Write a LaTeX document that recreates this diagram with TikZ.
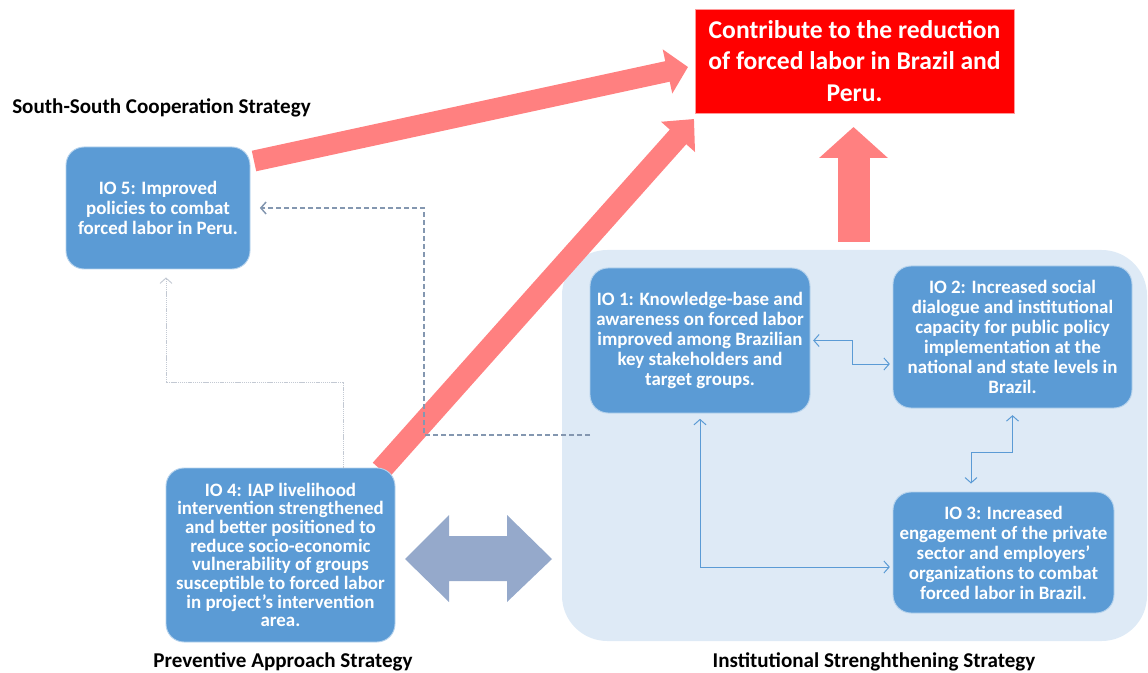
\documentclass[tikz,border=0pt]{standalone}
\usepackage{fontspec}
\setmainfont{Carlito}
\usetikzlibrary{arrows.meta,calc}

\definecolor{boxblue}{HTML}{5B9BD5}
\definecolor{bglight}{HTML}{DEEAF6}
\definecolor{goalred}{HTML}{FF0000}
\definecolor{pinkarrow}{HTML}{FF8080}
\definecolor{slateblue}{HTML}{95A9CB}
\definecolor{dashgray}{HTML}{8497B0}
\definecolor{dotgray}{HTML}{C3C9D3}

\tikzset{
  iobox/.style={draw=white!55!boxblue, line width=0.7pt, fill=boxblue,
    rounded corners=13.5pt, text=white, align=center, inner sep=0pt,
    font=\bfseries\fontsize{14.2}{15}\selectfont},
  goalbox/.style={draw=white!60!goalred, line width=0.6pt, fill=goalred,
    text=white, align=center, inner sep=0pt,
    font=\bfseries\fontsize{19.2}{23.5}\selectfont},
  strategy/.style={text=black, font=\bfseries\fontsize{15.8}{17}\selectfont, inner sep=0pt},
  bigarrow/.style={draw=pinkarrow, fill=pinkarrow, line cap=butt},
  conn/.style={draw=boxblue, line width=0.75pt,
    {Straight Barb[length=4pt,width=9pt]}-{Straight Barb[length=4pt,width=9pt]}},
  dashconn/.style={draw=dashgray, line width=1.1pt, dash pattern=on 4pt off 2pt,
    -{Straight Barb[length=4pt,width=9pt]}},
  dotconn/.style={draw=dotgray, line width=0.7pt, dash pattern=on 1pt off 0.6pt,
    -{Straight Barb[length=4pt,width=9pt]}},
}

\begin{document}
\begin{tikzpicture}[x=0.75pt, y=-0.75pt]
  \useasboundingbox (0,0) rectangle (1148,673);

  % light panel behind the institutional strengthening outcomes
  \fill[bglight, rounded corners=34pt] (562,250) rectangle (1147,641);

  % two-headed block arrow between IO 4 and the institutional panel
  \fill[slateblue] (405,559) -- (449,515) -- (449,536) -- (507,536) -- (507,515)
    -- (552,559) -- (507,602) -- (507,581) -- (449,581) -- (449,602) -- cycle;

  % thick pink contribution arrows
  \coordinate (s1) at (254,161);
  \coordinate (s2) at (381,470);
  \coordinate (s3) at (853.5,242);
  \coordinate (t1) at (688,67);
  \coordinate (t2) at (694,119);
  \coordinate (t3) at (853.5,127);
  \draw[bigarrow, line width=21*0.75pt,
        -{Triangle[length=21*0.75pt, width=44*0.75pt]}] (s1) -- (t1);
  \draw[bigarrow, line width=22*0.75pt,
        -{Triangle[length=24*0.75pt, width=44*0.75pt]}] (s2) -- (t2);
  \draw[bigarrow, line width=32*0.75pt,
        -{Triangle[length=31*0.75pt, width=67*0.75pt]}] (s3) -- (t3);

  % outcome boxes
  \node[goalbox, minimum width=319*0.75pt, minimum height=104*0.75pt] (goal) at (854.5,61)
    {Contribute to the reduction\\of forced labor in Brazil and\\Peru.};

  \node[iobox, minimum width=184*0.75pt, minimum height=122*0.75pt] (io5) at (158,208)
    {IO 5: Improved\\policies to combat\\forced labor in Peru.};

  \node[iobox, minimum width=229*0.75pt, minimum height=174*0.75pt,
        font=\bfseries\fontsize{14.2}{14}\selectfont] (io4) at (280.5,555)
    {IO 4: IAP livelihood\\intervention strengthened\\and better positioned to\\reduce socio-economic\\vulnerability of groups\\susceptible to forced labor\\in project’s intervention\\area.};

  \node[iobox, minimum width=220*0.75pt, minimum height=145*0.75pt] (io1) at (700,340.5)
    {IO 1: Knowledge-base and\\awareness on forced labor\\improved among Brazilian\\key stakeholders and\\target groups.};

  \node[iobox, minimum width=239*0.75pt, minimum height=142*0.75pt] (io2) at (1012.5,337)
    {IO 2: Increased social\\dialogue and institutional\\capacity for public policy\\implementation at the\\national and state levels in\\Brazil.};

  \node[iobox, minimum width=221*0.75pt, minimum height=121*0.75pt] (io3) at (1003.5,552.5)
    {IO 3: Increased\\engagement of the private\\sector and employers’\\organizations to combat\\forced labor in Brazil.};

  % links among the institutional outcomes
  \draw[conn, shorten <=2pt, shorten >=2pt] (io1.east) -- (852,340.5) |- (io2.west |- 0,364);
  \draw[conn, shorten <=5pt, shorten >=6pt] (io2.south) |- (971,452) -- (io3.north -| 971,0);
  \draw[conn, shorten <=4pt, shorten >=2pt] (io1.south) |- (io3.west |- 0,567);

  % institutional strategy feeding IO 5
  \coordinate (inst) at (590,435);
  \draw[dashconn, shorten >=7pt] (inst) -| (424,208) -- (io5.east);

  % IO 4 feeding IO 5
  \draw[dotconn, shorten >=6pt] (io4.north -| 343,0) |- (166,382) -- (io5.south -| 166,0);

  % strategy captions
  \node[strategy, anchor=west] (lss) at (12,108) {South-South Cooperation Strategy};
  \node[strategy] (lpa) at (283,662) {Preventive Approach Strategy};
  \node[strategy] (lis) at (874,662) {Institutional Strenghthening Strategy};
\end{tikzpicture}
\end{document}
